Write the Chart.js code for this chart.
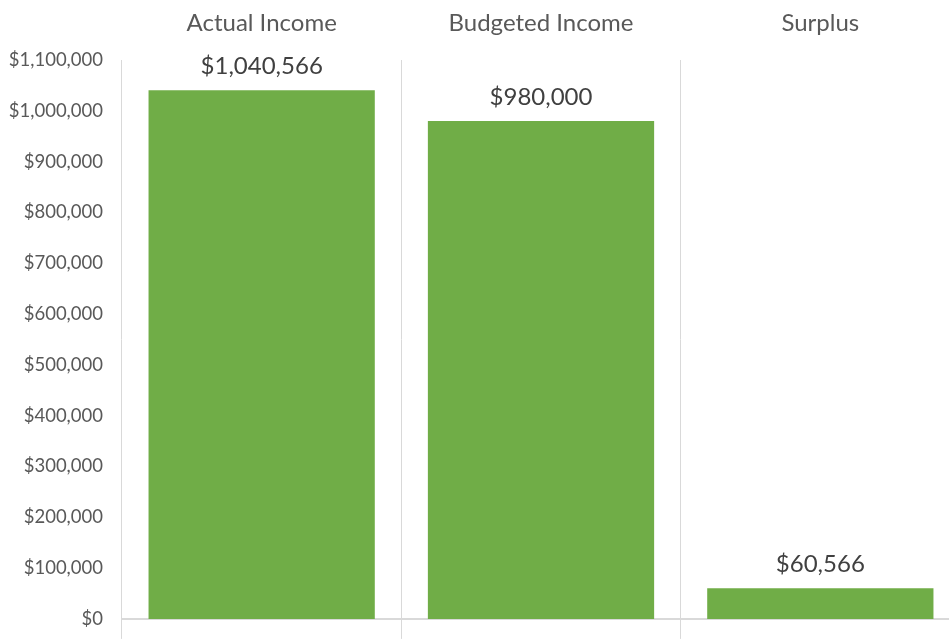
<!DOCTYPE html>
<html>
<head>
<meta charset="utf-8">
<script src="https://cdn.jsdelivr.net/npm/chart.js@4"></script>
<style>
  html, body { margin: 0; padding: 0; background: #fff; overflow: hidden; }
  #wrap { width: 960px; height: 649px; }
</style>
</head>
<body>
<div id="wrap"><canvas id="incomeChart"></canvas></div>
<script>
// income vs budget
const categories = ['Actual Income', 'Budgeted Income', 'Surplus'];
const values = [1040566, 980000, 60566];
const yTicks = [0, 100000, 200000, 300000, 400000, 500000, 600000, 700000, 800000, 900000, 1000000, 1100000];

const money = v => '$' + v.toLocaleString('en-US');

// labels above bars
const valueLabels = {
    id: 'valueLabels',
    afterDatasetsDraw(chart) {
        const ctx = chart.ctx;
        const meta = chart.getDatasetMeta(0);
        ctx.save();
        ctx.font = '24px Lato';
        ctx.fillStyle = '#404040';
        ctx.textAlign = 'center';
        ctx.textBaseline = 'alphabetic';
        meta.data.forEach((bar, i) => {
            ctx.fillText(money(values[i]), bar.x, bar.y - 16);
        });
        ctx.restore();
    }
};

const ctx = document.getElementById('incomeChart').getContext('2d');
const incomeChart = new Chart(ctx, {
    type: 'bar',
    data: {
        labels: categories,
        datasets: [{
            data: values,
            backgroundColor: '#70AD47',
            borderWidth: 0,
            categoryPercentage: 1,
            barPercentage: 0.81,
            xAxisID: 'x'
        }]
    },
    options: {
        responsive: true,
        maintainAspectRatio: false,
        animation: false,
        layout: { padding: 0 },
        plugins: {
            legend: { display: false },
            tooltip: { enabled: false }
        },
        scales: {
            x: {
                position: 'top',
                offset: true,
                grid: { offset: true, color: '#d9d9d9', drawTicks: false },
                border: { display: false },
                ticks: {
                    color: '#595959',
                    font: { family: 'Lato', size: 24 },
                    padding: 22
                },
                afterFit(scale) { scale.height = 60; }
            },
            x2: {
                type: 'category',
                position: 'bottom',
                offset: true,
                grid: { offset: true, color: '#d9d9d9', drawOnChartArea: false, tickLength: 20 },
                border: { display: true, color: '#d9d9d9', width: 2 },
                ticks: { display: false },
                afterFit(scale) { scale.height = 10; }
            },
            y: {
                min: 0,
                max: 1100000,
                afterBuildTicks(scale) { scale.ticks = yTicks.map(v => ({ value: v })); },
                grid: { display: false, drawTicks: false },
                border: { display: false },
                ticks: {
                    color: '#595959',
                    font: { family: 'Lato', size: 18.5 },
                    padding: 19,
                    callback: v => money(v)
                },
                afterFit(scale) { scale.width = 122; }
            }
        }
    },
    plugins: [valueLabels]
});
</script>
</body>
</html>
